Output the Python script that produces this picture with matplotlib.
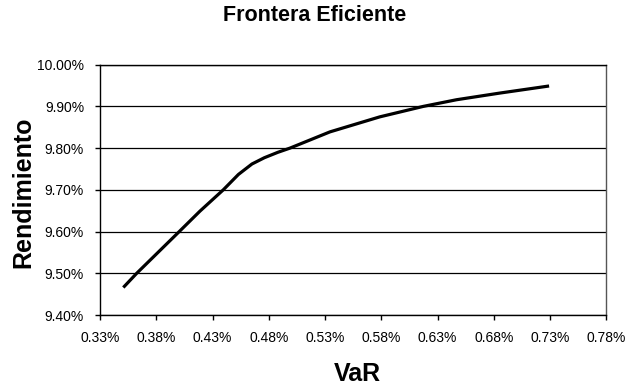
import matplotlib
matplotlib.use("Agg")
import matplotlib.pyplot as plt

plt.rcParams['font.family'] = ['Liberation Sans', 'DejaVu Sans']

# frontera eficiente: VaR (%) vs rendimiento (%)
var_pct = [0.3507, 0.3626, 0.4004, 0.4188, 0.4395, 0.4530, 0.4650, 0.4760,
           0.4880, 0.4987, 0.5343, 0.5786, 0.6171, 0.6467, 0.6852, 0.7290]
rend_pct = [9.466, 9.500, 9.600, 9.649, 9.700, 9.737, 9.762, 9.777,
            9.790, 9.800, 9.839, 9.875, 9.900, 9.916, 9.932, 9.949]

x_ticks = [0.33, 0.38, 0.43, 0.48, 0.53, 0.58, 0.63, 0.68, 0.73, 0.78]
y_ticks = [9.40, 9.50, 9.60, 9.70, 9.80, 9.90, 10.00]

fig = plt.figure(figsize=(6.27, 3.87), dpi=100)
ax = fig.add_axes([0.1595, 0.186, 0.8078, 0.6468])

ax.plot(var_pct, rend_pct, color='black', lw=2.3, solid_capstyle='butt',
        solid_joinstyle='round', zorder=3)

ax.set_xlim(x_ticks[0], x_ticks[-1])
ax.set_ylim(y_ticks[0], y_ticks[-1])
ax.set_xticks(x_ticks)
ax.set_yticks(y_ticks)
ax.set_xticklabels([f'{v:.2f}%' for v in x_ticks])
ax.set_yticklabels([f'{v:.2f}%' for v in y_ticks])

ax.grid(axis='y', color='black', lw=0.9)
ax.set_axisbelow(True)
for s in ax.spines.values():
    s.set_color('black')
    s.set_linewidth(1.0)
ax.spines['right'].set_color('#555555')

ax.tick_params(axis='both', labelsize=10, color='black', width=1.0, length=3.5)
ax.tick_params(axis='x', pad=8)
ax.tick_params(axis='y', pad=8)

fig.text(0.501, 0.959, 'Frontera Eficiente', ha='center', va='center',
         fontsize=15.5, fontweight='bold')
fig.text(0.570, 0.034, 'VaR', ha='center', va='center',
         fontsize=18, fontweight='bold')
fig.text(0.037, 0.504, 'Rendimiento', ha='center', va='center',
         rotation=90, fontsize=18, fontweight='bold')

fig.savefig('out.png', dpi=100)
